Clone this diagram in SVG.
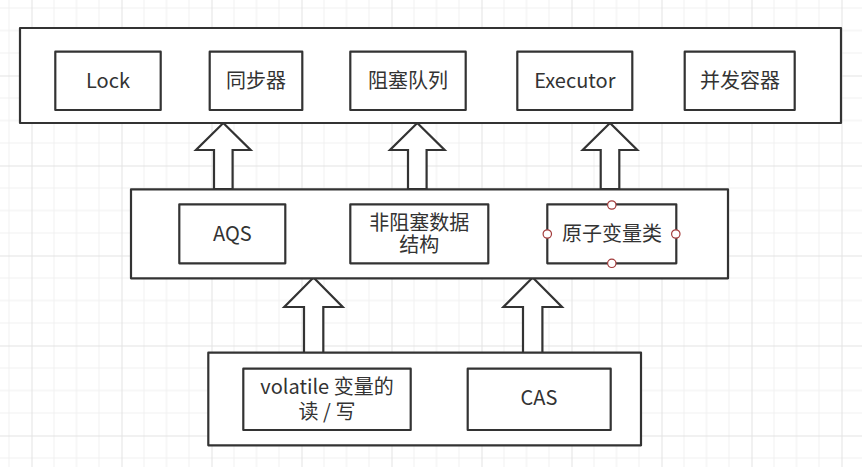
<svg xmlns="http://www.w3.org/2000/svg" width="862" height="467" viewBox="0 0 862 467">
<defs>
<pattern id="grid" patternUnits="userSpaceOnUse" x="31.5" y="-14.5" width="90" height="90">
<rect width="90" height="90" fill="#ffffff"/>
<path d="M22.5 0V90M45 0V90M67.5 0V90M0 22.5H90M0 45H90M0 67.5H90" stroke="#f0f0f0" stroke-width="1" fill="none"/>
<path d="M0.5 0V90M0 0.5H90" stroke="#e3e3e3" stroke-width="1" fill="none"/>
</pattern>
</defs>
<style>
.box{fill:#ffffff;stroke:#333333;stroke-width:2.2;stroke-linejoin:round}
.arrow{fill:#ffffff;stroke:#333333;stroke-width:2.2;stroke-linejoin:miter}
.t{font-family:"Noto Sans CJK SC","Noto Sans",sans-serif;font-size:20px;fill:#333333;text-anchor:middle}
.h{fill:#ffffff;stroke:#a33b3b;stroke-width:1.2}
</style>
<rect width="862" height="467" fill="url(#grid)"/>

<g id="connectors">
<polygon class="arrow" points="223.3,123 250.6,150 232.6,150 232.6,189 214,189 214,150 196,150"/>
<polygon class="arrow" points="417.3,123 444.6,150 426.6,150 426.6,189 408,189 408,150 390,150"/>
<polygon class="arrow" points="610,123 637.3,150 619.3,150 619.3,189 600.7,189 600.7,150 582.7,150"/>
<polygon class="arrow" points="313.5,277.5 342.7,307 323.3,307 323.3,353 304,353 304,307 284.3,307"/>
<polygon class="arrow" points="532.7,277.5 562,307 542.4,307 542.4,353 523,353 523,307 503.4,307"/>
</g>

<g id="layer-top">
<rect class="box" x="20" y="28" width="821" height="95"/>
</g>
<g id="node-lock">
<rect class="box" x="55.3" y="51.7" width="105.4" height="58.3"/>
<text class="t" x="108" y="88.3">Lock</text>
</g>
<g id="node-sync">
<rect class="box" x="209.7" y="51.7" width="92.6" height="58.3"/>
<text class="t" x="256" y="88.3">同步器</text>
</g>
<g id="node-bq">
<rect class="box" x="350.3" y="51.7" width="115.4" height="58.3"/>
<text class="t" x="408" y="88.3">阻塞队列</text>
</g>
<g id="node-executor">
<rect class="box" x="517.3" y="51.7" width="115" height="58.3"/>
<text class="t" x="574.8" y="88.3">Executor</text>
</g>
<g id="node-cc">
<rect class="box" x="684.7" y="51.7" width="110" height="58.3"/>
<text class="t" x="740" y="88.3">并发容器</text>
</g>

<g id="layer-middle">
<rect class="box" x="131" y="189.3" width="597" height="89"/>
</g>
<g id="node-aqs">
<rect class="box" x="179.3" y="204.3" width="106" height="59"/>
<text class="t" x="232.3" y="241">AQS</text>
</g>
<g id="node-nbds">
<rect class="box" x="350.3" y="204.3" width="138" height="59"/>
<text class="t" y="229.5"><tspan x="419.3">非阻塞数据</tspan><tspan x="419.3" dy="22.8">结构</tspan></text>
</g>
<g id="node-atomic">
<rect class="box" x="547.3" y="204.3" width="129" height="59"/>
<text class="t" x="612" y="240.5">原子变量类</text>
<circle class="h" cx="611.8" cy="205" r="4.2"/>
<circle class="h" cx="611.8" cy="263.3" r="4.2"/>
<circle class="h" cx="547.3" cy="234" r="4.2"/>
<circle class="h" cx="675.8" cy="234" r="4.2"/>
</g>

<g id="layer-bottom">
<rect class="box" x="208.3" y="352.7" width="432.7" height="92.6"/>
</g>
<g id="node-volatile">
<rect class="box" x="243.3" y="368.7" width="167.4" height="61.3"/>
<text class="t" y="393.8"><tspan x="327">volatile 变量的</tspan><tspan x="327" dy="24.7">读 / 写</tspan></text>
</g>
<g id="node-cas">
<rect class="box" x="467.7" y="368.7" width="143" height="61.3"/>
<text class="t" x="539" y="405.3">CAS</text>
</g>
</svg>
